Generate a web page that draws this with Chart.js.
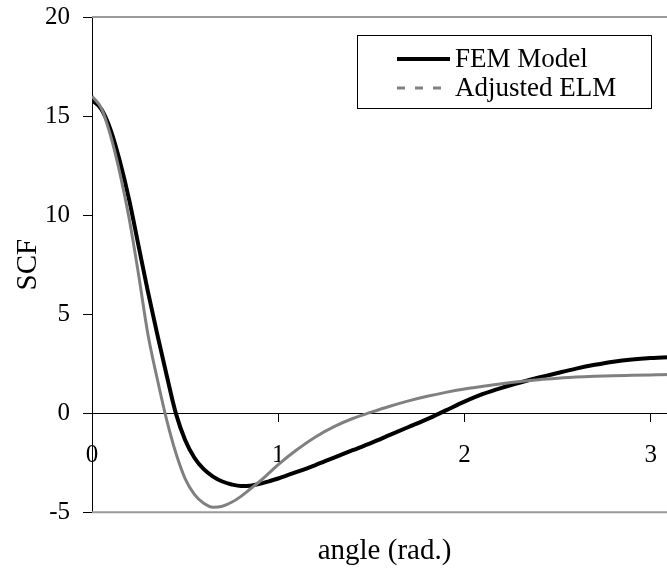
<!DOCTYPE html>
<html>
<head>
<meta charset="utf-8">
<title>SCF vs angle</title>
<script src="https://cdn.jsdelivr.net/npm/chart.js@4.4.1/dist/chart.umd.min.js"></script>
<style>
    html, body {
        margin: 0;
        padding: 0;
        background: #ffffff;
        overflow: hidden;
    }
    #scfChart {
        display: block;
    }
</style>
</head>
<body>
<canvas id="scfChart" width="690" height="569"></canvas>
<script>
// Angle around the hole (rad.)
const angles = [0, 0.05, 0.1, 0.15, 0.2, 0.25, 0.3, 0.35, 0.4, 0.45, 0.5, 0.55, 0.6, 0.65, 0.7,
    0.75, 0.8, 0.85, 0.9, 0.95, 1.0, 1.1, 1.2, 1.3, 1.4, 1.5, 1.6, 1.7, 1.8, 1.9, 2.0,
    2.1, 2.2, 2.3, 2.4, 2.5, 2.6, 2.7, 2.8, 2.9, 3.0, 3.1, 3.1416];

// Stress concentration factor, FEM model
const femScf = [15.8, 15.35, 14.3, 12.7, 10.75, 8.45, 6.15, 4.0, 1.95, 0.0, -1.35, -2.25, -2.83, -3.2, -3.45,
    -3.6, -3.68, -3.66, -3.57, -3.44, -3.3, -2.97, -2.62, -2.24, -1.87, -1.5, -1.1, -0.7, -0.3, 0.14, 0.58,
    0.97, 1.28, 1.55, 1.8, 2.03, 2.25, 2.44, 2.6, 2.71, 2.78, 2.82, 2.82];

// Stress concentration factor, adjusted ELM
const elmScf = [16.0, 15.4, 14.0, 12.1, 9.8, 7.0, 4.0, 1.75, -0.3, -2.0, -3.3, -4.1, -4.55, -4.75, -4.7,
    -4.5, -4.2, -3.83, -3.45, -3.03, -2.6, -1.85, -1.2, -0.68, -0.27, 0.05, 0.35, 0.62, 0.85, 1.05, 1.22,
    1.36, 1.49, 1.6, 1.69, 1.76, 1.82, 1.86, 1.89, 1.91, 1.93, 1.95, 1.95];

const seriesLabels = ['FEM Model', 'Adjusted ELM'];
const yTicks = [-5, 0, 5, 10, 15, 20];
const xTicks = [0, 1, 2, 3];

const serif = 'Liberation Serif, Times New Roman, serif';

function toPoints(values) {
    return angles.map((a, i) => ({ x: a, y: values[i] }));
}

// Grey frame round the plot area (left side is the y axis itself)
const plotFrame = {
    id: 'plotFrame',
    beforeDatasetsDraw(chart) {
        const { ctx, chartArea: a } = chart;
        ctx.save();
        ctx.strokeStyle = '#9a9a9a';
        ctx.lineWidth = 2;
        ctx.beginPath();
        ctx.moveTo(a.left, a.top);
        ctx.lineTo(a.right, a.top);
        ctx.lineTo(a.right, a.bottom);
        ctx.lineTo(a.left, a.bottom);
        ctx.stroke();
        ctx.restore();
    }
};

// Boxed legend inside the plot, top right
const boxLegend = {
    id: 'boxLegend',
    afterDraw(chart, args, opts) {
        const { ctx } = chart;
        const box = opts.box;
        ctx.save();
        ctx.fillStyle = '#ffffff';
        ctx.fillRect(box.x, box.y, box.w, box.h);
        ctx.strokeStyle = '#000000';
        ctx.lineWidth = 1;
        ctx.strokeRect(box.x + 0.5, box.y + 0.5, box.w, box.h);

        chart.data.datasets.forEach((ds, i) => {
            const y = box.y + opts.firstRow + i * opts.rowStep;
            ctx.beginPath();
            ctx.setLineDash(opts.dashes[i]);
            ctx.strokeStyle = ds.borderColor;
            ctx.lineWidth = ds.borderWidth;
            ctx.moveTo(opts.lineStart, y);
            ctx.lineTo(opts.lineEnd, y);
            ctx.stroke();
            ctx.setLineDash([]);
            ctx.fillStyle = '#000000';
            ctx.font = '27px ' + serif;
            ctx.textBaseline = 'middle';
            ctx.textAlign = 'left';
            ctx.fillText(ds.label, opts.textStart, y + 1);
        });
        ctx.restore();
    }
};

const ctx = document.getElementById('scfChart').getContext('2d');

new Chart(ctx, {
    type: 'line',
    data: {
        datasets: [{
            label: seriesLabels[0],
            data: toPoints(femScf),
            borderColor: '#000000',
            borderWidth: 4,
            pointRadius: 0,
            cubicInterpolationMode: 'monotone',
            order: 2
        }, {
            label: seriesLabels[1],
            data: toPoints(elmScf),
            borderColor: '#808080',
            borderWidth: 3,
            pointRadius: 0,
            cubicInterpolationMode: 'monotone',
            order: 1
        }]
    },
    options: {
        responsive: false,
        animation: false,
        devicePixelRatio: 1,
        layout: {
            padding: { left: 0, right: 13, top: 17, bottom: 0 }
        },
        plugins: {
            legend: { display: false },
            tooltip: { enabled: false },
            boxLegend: {
                box: { x: 357, y: 35, w: 294, h: 73 },
                firstRow: 24,
                rowStep: 29,
                lineStart: 397,
                lineEnd: 450,
                textStart: 455,
                dashes: [[], [8, 10]]
            }
        },
        scales: {
            x: {
                type: 'linear',
                position: { y: 0 },
                min: 0,
                max: Math.PI,
                afterBuildTicks: scale => {
                    scale.ticks = xTicks.map(v => ({ value: v }));
                },
                ticks: {
                    color: '#000000',
                    padding: 19,
                    font: { family: serif, size: 25 }
                },
                grid: {
                    drawOnChartArea: false,
                    color: '#000000',
                    tickLength: 8
                },
                border: { color: '#000000', width: 1 }
            },
            xTitle: {
                type: 'linear',
                axis: 'x',
                position: 'bottom',
                min: 0,
                max: Math.PI,
                ticks: { display: false },
                grid: { display: false, drawTicks: false },
                border: { display: false },
                title: {
                    display: true,
                    text: 'angle (rad.)',
                    color: '#000000',
                    padding: { top: 22, bottom: 0 },
                    font: { family: serif, size: 29 }
                }
            },
            y: {
                min: -5,
                max: 20,
                afterBuildTicks: scale => {
                    scale.ticks = yTicks.map(v => ({ value: v }));
                },
                afterFit: scale => {
                    // fixed axis width; let the top label overhang the canvas padding
                    scale.width = 92;
                    scale.paddingTop = 0;
                    scale.paddingBottom = 0;
                },
                ticks: {
                    color: '#000000',
                    padding: 13,
                    font: { family: serif, size: 25 }
                },
                grid: {
                    drawOnChartArea: false,
                    color: '#000000',
                    tickLength: 9
                },
                border: { color: '#000000', width: 1 },
                title: {
                    display: true,
                    text: 'SCF',
                    color: '#000000',
                    padding: { top: 11, bottom: 0 },
                    font: { family: serif, size: 29 }
                }
            }
        }
    },
    plugins: [plotFrame, boxLegend]
});
</script>
</body>
</html>
